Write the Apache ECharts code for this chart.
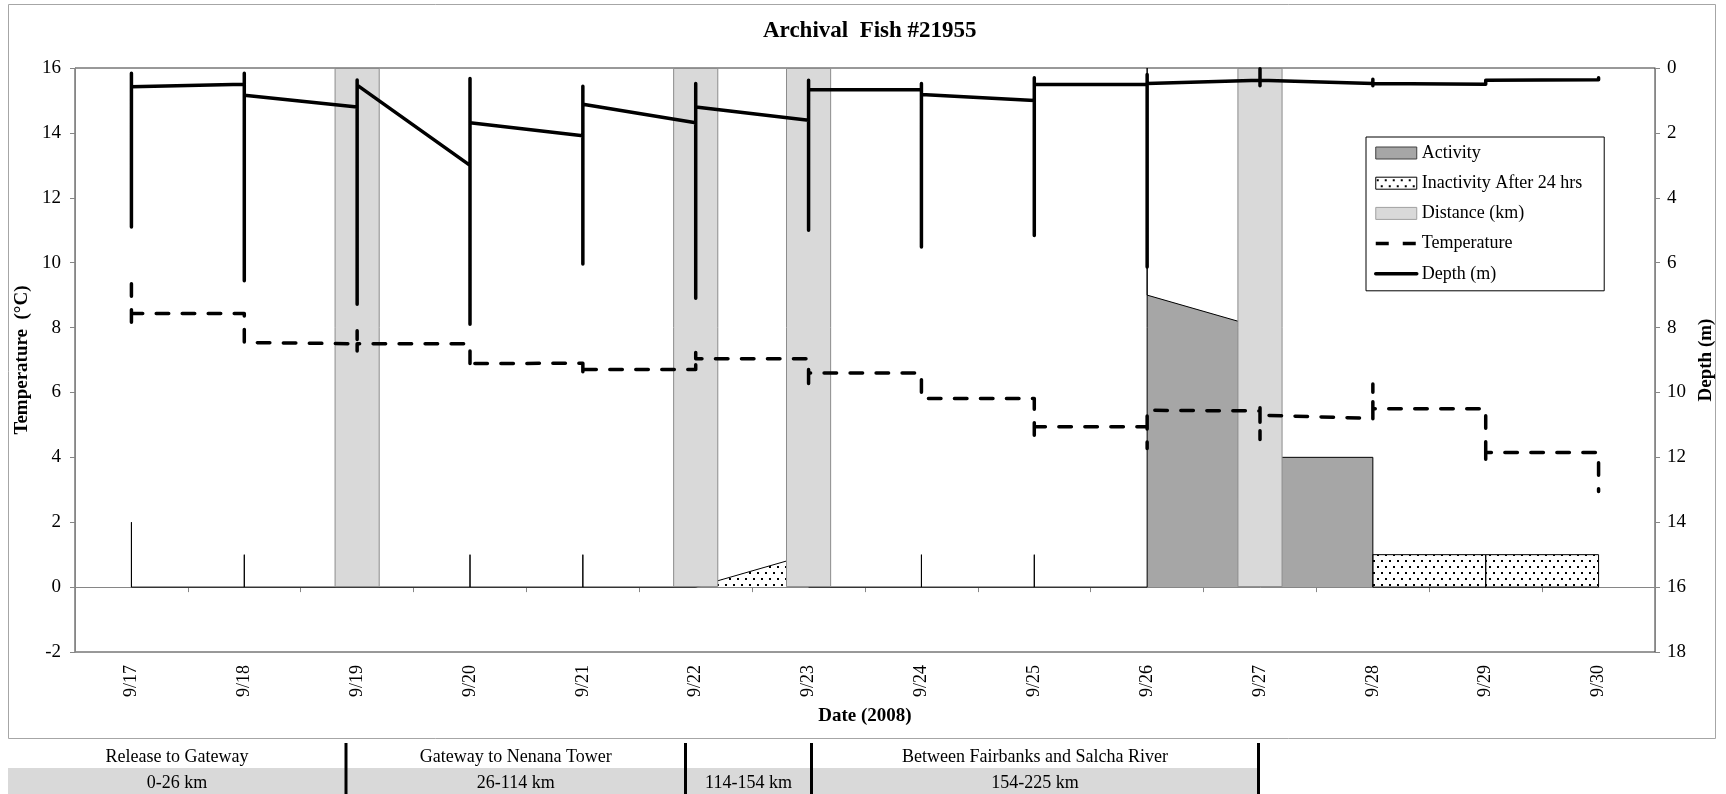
<!DOCTYPE html>
<html>
<head>
<meta charset="utf-8">
<title>Archival Fish #21955</title>
<script src="https://cdn.jsdelivr.net/npm/echarts@6/dist/echarts.min.js"></script>
<style>
  html, body { margin: 0; padding: 0; background: #fff; }
  #chart { width: 1726px; height: 794px; }
</style>
</head>
<body>
<div id="chart"></div>
<script>
// ---- Data -------------------------------------------------------------
// Day labels (2008); numeric day index 0 = 9/17
const dates = ['9/17', '9/18', '9/19', '9/20', '9/21', '9/22', '9/23',
               '9/24', '9/25', '9/26', '9/27', '9/28', '9/29', '9/30'];

// Travel days (full-height bands on the temperature axis)
const distanceBand = [null, null, 16, null, null, 16, 16, null, null, null, 16, null, null, null];

// Activity (temperature axis units), [day, value]; '-' breaks the trace
const activity = [
  [0, 0], [0, 2], [0, 0], [1, 0], [1, 1], [1, 0], [3, 0], [3, 1], [3, 0],
  [4, 0], [4, 1], [4, 0], [5, 0], [5, '-'],
  [6, 0], [7, 0], [7, 1], [7, 0], [8, 0], [8, 1], [8, 0],
  [9, 0], [9, 16], [9, 9], [10, 8], [10, 4], [11, 4], [11, 0], [13, 0]
];

// Inactivity after 24 hrs, [day, value]
const inactivity = [
  [5, 0], [6, 1], [6, '-'],
  [11, 0], [11, 1], [12, 1], [12, 0], [12, 1], [13, 1], [13, 0]
];

// Water temperature (°C), [day, value]
const temperature = [
  [0, 9.35], [0, 8.07], [0, 8.43], [1, 8.43], [1, 7.54], [2, 7.5],
  [2, 7.9], [2, 7.28], [2, 7.5], [3, 7.5], [3, 6.76], [3, 6.89], [4, 6.9],
  [4, 6.48], [4, 6.71], [5, 6.71], [5, 7.25], [5, 7.04], [6, 7.04],
  [6, 6.09], [6, 6.6], [7, 6.6], [7, 5.81], [8, 5.81],
  [8, 4.58], [8, 4.94], [9, 4.94], [9, 4.27], [9, 5.45], [10, 5.43],
  [10, 4.55], [10, 5.53], [10, 5.3], [11, 5.2],
  [11, 6.26], [11, 5.05], [11, 5.5], [12, 5.5],
  [12, 3.81], [12, 4.15], [13, 4.15], [13, 2.95]
];

// Fish depth (m), [day, value]
const depth = [
  [0, 0.16], [0, 4.9], [0, 0.58], [1, 0.5],
  [1, 0.16], [1, 6.56], [1, 0.84], [2, 1.2],
  [2, 0.37], [2, 7.28], [2, 0.53], [3, 3.0],
  [3, 0.32], [3, 7.9], [3, 1.69], [4, 2.09],
  [4, 0.56], [4, 6.04], [4, 1.12], [5, 1.69],
  [5, 0.48], [5, 7.1], [5, 1.2], [6, 1.61],
  [6, 0.38], [6, 5.0], [6, 0.67], [7, 0.67],
  [7, 0.48], [7, 5.52], [7, 0.82], [8, 1.0],
  [8, 0.3], [8, 5.16], [8, 0.51], [9, 0.51],
  [9, 0.2], [9, 6.13], [9, 0.48], [10, 0.38],
  [10, 0.02], [10, 0.55], [10, 0.38], [11, 0.48],
  [11, 0.35], [11, 0.55], [11, 0.48], [12, 0.5],
  [12, 0.38], [13, 0.36], [13, 0.3], [13, 0.42]
];

// River segments shown in the table under the chart
const segmentNames = ['Release to Gateway', 'Gateway to Nenana Tower', '', 'Between Fairbanks and Salcha River'];
const segmentRanges = ['0-26 km', '26-114 km', '114-154 km', '154-225 km'];

// ---- Styling helpers --------------------------------------------------
const SERIF = '"Liberation Serif", "Times New Roman", serif';
const AXIS_GRAY = '#868686';
const NO_MARKER = { color: 'rgba(0,0,0,0)', borderWidth: 0, opacity: 0 };

function dotPattern() {
  const c = document.createElement('canvas');
  c.width = 8; c.height = 12;
  const ctx = c.getContext('2d');
  ctx.fillStyle = '#fff';
  ctx.fillRect(0, 0, 8, 12);
  ctx.fillStyle = '#000';
  ctx.fillRect(1, 2, 2, 2);
  ctx.fillRect(5, 8, 2, 2);
  return { image: c, repeat: 'repeat' };
}
const dots = dotPattern();

// Table under the plot: column edges and row tops (px)
const colEdges = [8, 346, 685.5, 811.5, 1258.5];
const rowTop = [743, 768, 794];

function tableGraphics() {
  const g = [];
  g.push({
    type: 'rect', z: 0,
    shape: { x: colEdges[0], y: rowTop[1], width: colEdges[colEdges.length - 1] - colEdges[0], height: rowTop[2] - rowTop[1] },
    style: { fill: '#d9d9d9' }
  });
  for (let i = 0; i < segmentNames.length; i++) {
    const cx = (colEdges[i] + colEdges[i + 1]) / 2;
    g.push({ type: 'text', z: 2, x: cx, y: (rowTop[0] + rowTop[1]) / 2 + 2,
      style: { text: segmentNames[i], font: '18px ' + SERIF, fill: '#000', align: 'center', verticalAlign: 'middle' } });
    g.push({ type: 'text', z: 2, x: cx, y: (rowTop[1] + rowTop[2]) / 2 + 2,
      style: { text: segmentRanges[i], font: '18px ' + SERIF, fill: '#000', align: 'center', verticalAlign: 'middle' } });
  }
  for (let i = 1; i < colEdges.length; i++) {
    g.push({ type: 'line', z: 3,
      shape: { x1: colEdges[i], y1: rowTop[0], x2: colEdges[i], y2: rowTop[2] },
      style: { stroke: '#000', lineWidth: 3 } });
  }
  // chart frame
  g.push({ type: 'rect', z: -1,
    shape: { x: 8.5, y: 4.5, width: 1707, height: 734 },
    style: { fill: 'none', stroke: '#a6a6a6', lineWidth: 1 } });
  return g;
}

// ---- Chart ------------------------------------------------------------
const chart = echarts.init(document.getElementById('chart'), null, { renderer: 'canvas' });

const option = {
  animation: false,
  backgroundColor: '#fff',
  title: {
    text: 'Archival  Fish #21955',
    left: 758, top: 15,
    textStyle: { fontFamily: SERIF, fontSize: 23, fontWeight: 'bold', color: '#000' }
  },
  grid: {
    left: 75, top: 68, width: 1580, height: 584,
    show: true, borderColor: '#333', borderWidth: 1, backgroundColor: '#fff'
  },
  legend: {
    orient: 'vertical', left: 1366, top: 137,
    padding: [7, 22, 8, 8], itemGap: 12.2, itemWidth: 41, itemHeight: 12,
    borderColor: '#000', borderWidth: 1, backgroundColor: '#fff',
    textStyle: { fontFamily: SERIF, fontSize: 18, color: '#000' },
    data: [
      { name: 'Activity', icon: 'rect', itemStyle: { color: '#a6a6a6', borderColor: '#404040', borderWidth: 1 } },
      { name: 'Inactivity After 24 hrs', icon: 'rect', itemStyle: { color: dots, borderColor: '#000', borderWidth: 1 } },
      { name: 'Distance (km)', icon: 'rect', itemStyle: { color: '#d9d9d9', borderColor: '#a0a0a0', borderWidth: 1 } },
      { name: 'Temperature', itemStyle: NO_MARKER, lineStyle: { color: '#000', width: 3.5, type: [13, 14], cap: 'butt' } },
      { name: 'Depth (m)', itemStyle: NO_MARKER, lineStyle: { color: '#000', width: 3.5, type: 'solid' } }
    ]
  },
  xAxis: [
    { // date labels along the bottom of the plot
      type: 'category', data: dates, position: 'bottom', boundaryGap: true,
      axisLine: { show: false, onZero: false },
      axisTick: { show: false },
      axisLabel: { rotate: 90, margin: 13, fontFamily: SERIF, fontSize: 18, color: '#000' },
      name: 'Date (2008)', nameLocation: 'middle', nameGap: 55,
      nameTextStyle: { fontFamily: SERIF, fontSize: 19, fontWeight: 'bold', color: '#000' },
      splitLine: { show: false }
    },
    { // category axis crossing at 0 °C
      type: 'category', data: dates, position: 'bottom', boundaryGap: true,
      axisLine: { show: true, onZero: true, onZeroAxisIndex: 0, lineStyle: { color: AXIS_GRAY, width: 1 } },
      axisTick: { show: true, length: 5, lineStyle: { color: AXIS_GRAY } },
      axisLabel: { show: false },
      splitLine: { show: false }
    },
    { // continuous day scale for the traces
      type: 'value', min: -0.5, max: 13.5, show: false,
      axisLine: { onZero: false }, splitLine: { show: false }
    }
  ],
  yAxis: [
    {
      type: 'value', min: -2, max: 16, interval: 2, position: 'left',
      axisLine: { show: true, onZero: false, lineStyle: { color: AXIS_GRAY } },
      axisTick: { show: true, length: 5, lineStyle: { color: AXIS_GRAY } },
      axisLabel: { margin: 14, fontFamily: SERIF, fontSize: 19, color: '#000' },
      splitLine: { show: false },
      name: 'Temperature  (°C)', nameLocation: 'middle', nameRotate: 90, nameGap: 37.5,
      nameTextStyle: { fontFamily: SERIF, fontSize: 19, fontWeight: 'bold', color: '#000' }
    },
    {
      type: 'value', min: 0, max: 18, interval: 2, position: 'right', inverse: true,
      axisLine: { show: true, onZero: false, lineStyle: { color: AXIS_GRAY } },
      axisTick: { show: true, length: 5, lineStyle: { color: AXIS_GRAY } },
      axisLabel: { margin: 12, fontFamily: SERIF, fontSize: 19, color: '#000' },
      splitLine: { show: false },
      name: 'Depth (m)', nameLocation: 'middle', nameRotate: 90, nameGap: 42,
      nameTextStyle: { fontFamily: SERIF, fontSize: 19, fontWeight: 'bold', color: '#000' }
    }
  ],
  graphic: tableGraphics(),
  series: [
    {
      name: 'Activity', type: 'line', xAxisIndex: 2, yAxisIndex: 0, z: 1,
      data: activity, symbol: 'none', connectNulls: false,
      lineStyle: { color: '#000', width: 1 },
      itemStyle: { color: '#a6a6a6' },
      areaStyle: { color: '#a6a6a6', opacity: 1 }
    },
    {
      name: 'Inactivity After 24 hrs', type: 'line', xAxisIndex: 2, yAxisIndex: 0, z: 1,
      data: inactivity, symbol: 'none', connectNulls: false,
      lineStyle: { color: '#000', width: 1 },
      itemStyle: { color: '#fff' },
      areaStyle: { color: dots, opacity: 1 }
    },
    {
      name: 'Distance (km)', type: 'bar', xAxisIndex: 0, yAxisIndex: 0, z: 2,
      data: distanceBand, barWidth: '40%',
      itemStyle: { color: '#d9d9d9', borderColor: '#8c8c8c', borderWidth: 1 }
    },
    {
      name: 'Temperature', type: 'line', xAxisIndex: 2, yAxisIndex: 0, z: 3,
      data: temperature, symbol: 'none',
      itemStyle: { color: '#000' },
      lineStyle: { color: '#000', width: 3.5, type: [12.5, 13.5], cap: 'round', join: 'round' }
    },
    {
      name: 'Depth (m)', type: 'line', xAxisIndex: 2, yAxisIndex: 1, z: 4,
      data: depth, symbol: 'none',
      itemStyle: { color: '#000' },
      lineStyle: { color: '#000', width: 3.5, cap: 'round', join: 'round' }
    }
  ]
};

chart.setOption(option);
</script>
</body>
</html>
